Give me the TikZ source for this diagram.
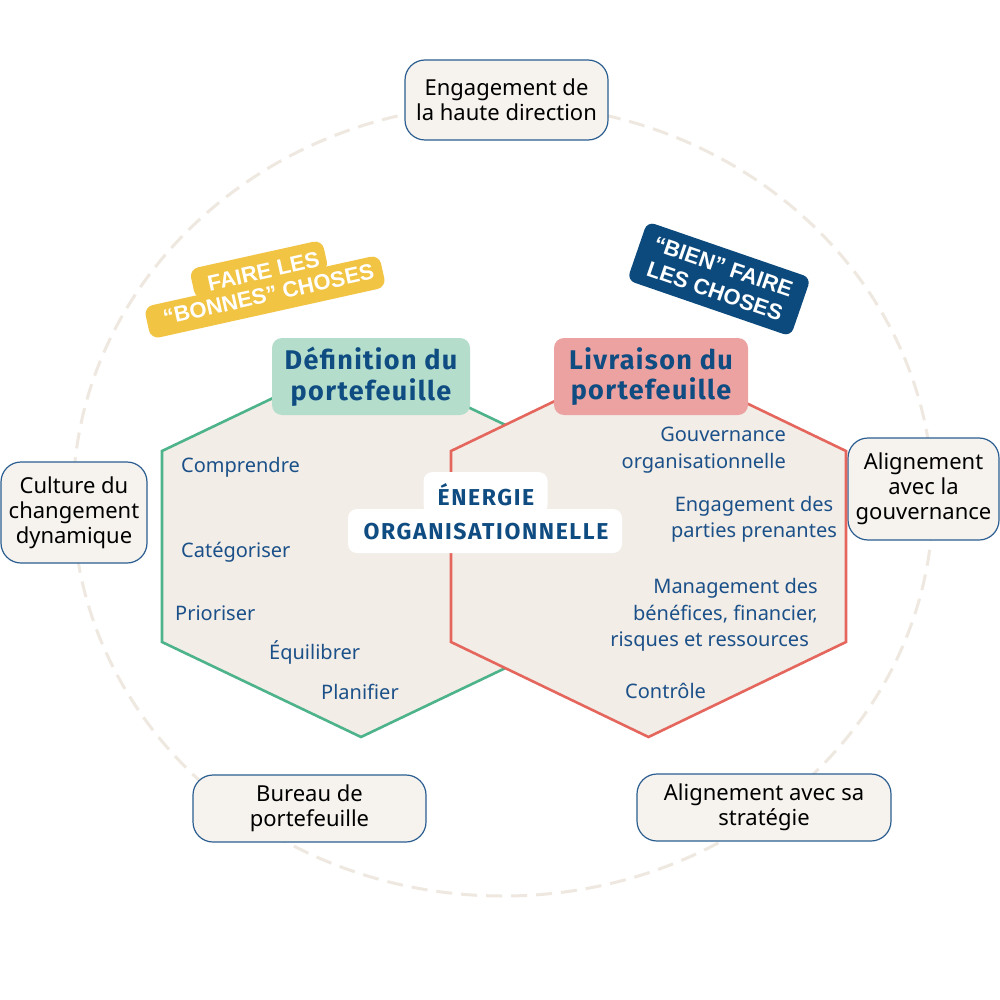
\documentclass[tikz,border=0pt]{standalone}
\usepackage{fontspec}
\setmainfont{Noto Sans}
\newfontfamily\tagfont{Liberation Sans}
\newfontfamily\headfont[LetterSpace=5]{Fira Sans}
\newfontfamily\enfont[LetterSpace=7]{Fira Sans}
\definecolor{navy}{HTML}{0F4C81}
\definecolor{itemblue}{HTML}{1B5088}
\definecolor{boxline}{HTML}{2B5E90}
\definecolor{boxfill}{HTML}{F6F3EE}
\definecolor{hexfill}{HTML}{F2EDE7}
\definecolor{hexgreen}{HTML}{4DB38B}
\definecolor{hexred}{HTML}{E4665D}
\definecolor{mint}{HTML}{B4DDCC}
\definecolor{rose}{HTML}{EBA2A0}
\definecolor{tagyellow}{HTML}{F1C444}
\definecolor{tagblue}{HTML}{0C4A7D}
\definecolor{ringcol}{HTML}{EEE8E0}
\begin{document}
\begin{tikzpicture}[x=1pt,y=-1pt,
  outbox/.style={draw=boxline, line width=1.2pt, fill=boxfill, rounded corners=20pt,
    align=center, inner sep=0pt, text=black, font=\fontsize{22}{25}\selectfont},
  hexlabel/.style={rounded corners=10pt, align=center, inner sep=0pt, text=navy,
    minimum height=77pt, font=\headfont\bfseries\fontsize{27}{30.5}\selectfont},
  item/.style={text=itemblue, inner sep=0pt, font=\fontsize{20}{26.7}\selectfont},
  whitepad/.style={fill=white, rounded corners=9pt, inner sep=0pt},
  ytag/.style={fill=tagyellow, rounded corners=9pt, inner sep=0pt, transform shape},
  tagtext/.style={text=white, inner sep=0pt, align=center,
    font=\tagfont\bfseries\fontsize{22}{23.5}\selectfont}
]
\useasboundingbox (0,0) rectangle (1000,1000);
\fill[white] (0,0) rectangle (1000,1000);

% dashed ring
\draw[ringcol, line width=3pt, dash pattern=on 16pt off 9pt] (503,500) ellipse [x radius=430, y radius=396];

% outer boxes
\node[outbox, minimum width=203pt, minimum height=80pt] (top) at (506.5,100) {Engagement de\\la haute direction};
\node[outbox, minimum width=146pt, minimum height=101pt] (cult) at (74,512.5) {Culture du\\changement\\dynamique};
\node[outbox, minimum width=151pt, minimum height=102pt] (gouv) at (923.5,489) {Alignement\\avec la\\gouvernance};
\node[outbox, minimum width=233pt, minimum height=67pt] (bur) at (309.5,808.5) {Bureau de\\portefeuille};
\node[outbox, minimum width=254pt, minimum height=67pt] (strat) at (764,807.5) {Alignement avec sa\\stratégie};

% hexagons
\draw[hexgreen, line width=2.6pt, fill=hexfill, line join=miter]
  (361,356) -- (560,451) -- (560,642) -- (361,737) -- (162,642) -- (162,451) -- cycle;
\draw[hexred, line width=2.6pt, fill=hexfill, line join=miter]
  (648.5,356) -- (846,451) -- (846,642) -- (648.5,737) -- (451,642) -- (451,451) -- cycle;

% hexagon labels
\node[hexlabel, fill=mint, minimum width=198pt] (def) at (371,376.5) {Définition du\\portefeuille};
\node[hexlabel, fill=rose, minimum width=194pt] (liv) at (651,376.5) {Livraison du\\portefeuille};

% left items
\node[item, anchor=base west] (i1) at (181,472) {Comprendre};
\node[item, anchor=base west] (i2) at (181,557) {Catégoriser};
\node[item, anchor=base west] (i3) at (175,620) {Prioriser};
\node[item, anchor=base west] (i4) at (269,659) {Équilibrer};
\node[item, anchor=base west] (i5) at (321,699) {Planifier};

% right items
\node[item, align=right, anchor=east] (r1) at (786,450.3) {Gouvernance\\organisationnelle};
\node[item, align=center] (r2) at (754,519.3) {Engagement des\\parties prenantes};
\node[item, align=right, anchor=east] (r3) at (818,614.8) {Management des\\bénéfices, financier,\\risques et ressources\hspace*{9pt}};
\node[item, anchor=base west] (r4) at (625,698) {Contrôle};

% energie
\node[whitepad, minimum width=124pt, minimum height=42pt] (ep1) at (485.5,493) {};
\node[whitepad, minimum width=274pt, minimum height=44pt] (ep2) at (485,531) {};
\node[text=navy, inner sep=0pt, align=center, font=\enfont\bfseries\fontsize{23}{34}\selectfont] (en) at (486,512) {ÉNERGIE\\ORGANISATIONNELLE};

% yellow tag
\begin{scope}[shift={(266,283)}, rotate=12.5]
  \node[ytag, minimum width=241pt, minimum height=33pt] (yb) at (-4,13.5) {};
  \node[ytag, minimum width=136pt, minimum height=31pt] (yt) at (-4,-14.5) {};
  \node[tagtext, transform shape] (ytxt) at (0,0) {FAIRE LES\\“BONNES” CHOSES};
\end{scope}

% blue tag
\node[fill=tagblue, rounded corners=8pt, rotate=-19, minimum width=173pt, minimum height=62pt,
  tagtext, text=white, font=\tagfont\bfseries\fontsize{22}{26}\selectfont] (bt) at (719,279) {“BIEN” FAIRE\\LES CHOSES};
\end{tikzpicture}
\end{document}
